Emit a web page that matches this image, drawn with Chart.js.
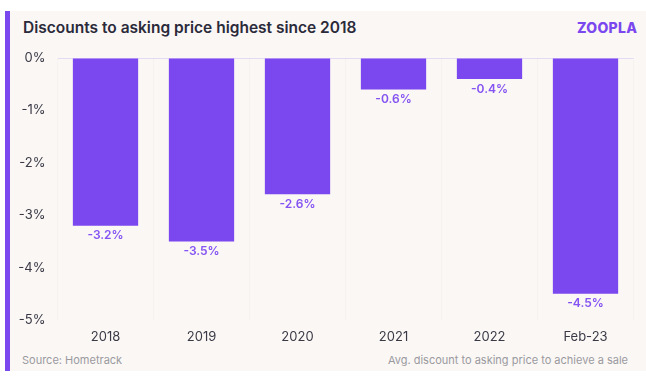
<!DOCTYPE html>
<html>
<head>
<meta charset="utf-8">
<script src="https://cdn.jsdelivr.net/npm/chart.js@4.4.1/dist/chart.umd.min.js"></script>
<style>
    body { margin: 0; background: #fff; width: 646px; height: 378px; overflow: hidden; font-family: Inter, "Open Sans", sans-serif; }
    .card { position: absolute; left: 5px; top: 11px; width: 641px; height: 360px; background: #faf7f5; border-left: 5px solid #7b47ef; box-sizing: border-box; }
    .title { position: absolute; left: 23px; top: 18px; font-size: 15.5px; font-weight: 600; color: #2b2a3a; white-space: nowrap; }
    .logo { position: absolute; left: 577px; top: 19px; font-size: 14px; font-weight: 800; color: #7b47ef; letter-spacing: 0.3px; }
    .src { position: absolute; left: 22px; top: 353px; font-size: 11px; color: #9a9a9f; }
    .note { position: absolute; right: 18px; top: 353px; font-size: 11px; color: #9a9a9f; }
    #myChart { position: absolute; left: 0; top: 0; }
</style>
</head>
<body>
<div class="card"></div>
<div class="title">Discounts to asking price highest since 2018</div>
<div class="logo">ZOOPLA</div>
<div class="src">Source: Hometrack</div>
<div class="note">Avg. discount to asking price to achieve a sale</div>
<canvas id="myChart" width="646" height="378"></canvas>
<script>
const categories = ['2018', '2019', '2020', '2021', '2022', 'Feb-23'];
const discounts = [-3.2, -3.5, -2.6, -0.6, -0.4, -4.5];
const yTicks = [0, -1, -2, -3, -4, -5];

const purple = '#7b47ef';

// value labels under each bar end
const barLabels = {
    id: 'barLabels',
    afterDatasetsDraw(chart) {
        const ctx = chart.ctx;
        const meta = chart.getDatasetMeta(0);
        ctx.save();
        ctx.font = '600 12px Inter, sans-serif';
        ctx.fillStyle = '#8553f2';
        ctx.textAlign = 'center';
        ctx.textBaseline = 'middle';
        meta.data.forEach((bar, i) => {
            ctx.fillText(discounts[i].toFixed(1) + '%', bar.x, bar.y + 10);
        });
        ctx.restore();
    }
};

new Chart('myChart', {
    type: 'bar',
    data: {
        labels: categories,
        datasets: [{
            data: discounts,
            backgroundColor: purple,
            borderWidth: 0,
            barPercentage: 0.68,
            categoryPercentage: 1
        }]
    },
    options: {
        responsive: false,
        animation: false,
        devicePixelRatio: 1,
        layout: { padding: { left: 10, right: 12.5, top: 58, bottom: 0 } },
        plugins: { legend: { display: false }, tooltip: { enabled: false } },
        scales: {
            x: {
                offset: true,
                grid: { offset: true, color: 'rgba(120,100,140,0.03)', drawTicks: false },
                border: { display: false },
                ticks: { padding: 9, color: '#3a3945', font: { family: 'Inter', size: 13 } },
                afterFit: (s) => { s.height = 58; }
            },
            y: {
                min: -5,
                max: 0,
                afterBuildTicks: (s) => { s.ticks = yTicks.map(v => ({ value: v })); },
                grid: {
                    color: (c) => c.tick && c.tick.value === 0 ? 'rgba(123,71,239,0.16)' : 'rgba(0,0,0,0)',
                    drawTicks: false
                },
                border: { display: false },
                ticks: {
                    padding: 12,
                    color: '#3a3945',
                    font: { family: 'Inter', size: 13 },
                    callback: (v) => v + '%'
                },
                afterFit: (s) => { s.width = 47.5; }
            }
        }
    },
    plugins: [barLabels]
});
</script>
</body>
</html>
